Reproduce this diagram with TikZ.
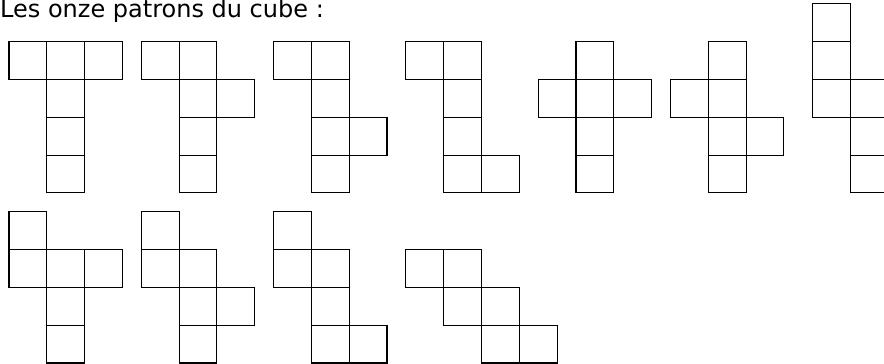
\documentclass[tikz,border=0pt]{standalone}
\usepackage{fontspec}
\setmainfont{DejaVu Sans}
\usetikzlibrary{positioning}

\begin{document}
\begin{tikzpicture}[x=1pt, y=-1pt,
    face/.style={draw=black, line width=1.1pt},
    titre/.style={font=\fontsize{24}{28}\selectfont, inner sep=0pt, anchor=base west}]
    % Parameters
    \def\u{37.8}      % side of one square
    \def\ox{9}        % left edge of the first net
    \def\oy{41.7}     % top edge of the first row of nets

    \useasboundingbox (0,0) rectangle (884,364);
    \clip (0,0) rectangle (884,364);

    % Title
    \node[titre] (titre) at (0,17.2) {Les onze patrons du cube :};

    % One net: #1,#2 = offset (in squares), #3 = list of cells col/row
    \def\patron#1#2#3{%
        \foreach \cx/\cy in {#3} {
            \draw[face] ({#1+\cx},{#2+\cy}) rectangle ++(1,1);
        }}

    \begin{scope}[shift={(\ox,\oy)}, x=\u pt, y=-\u pt]
        % First row
        \patron{0}{0}{0/0,1/0,2/0,1/1,1/2,1/3}
        \patron{3.5}{0}{0/0,1/0,1/1,2/1,1/2,1/3}
        \patron{7}{0}{0/0,1/0,1/1,1/2,2/2,1/3}
        \patron{10.5}{0}{0/0,1/0,1/1,1/2,1/3,2/3}
        \patron{14}{0}{1/0,0/1,1/1,2/1,1/2,1/3}
        \patron{17.5}{0}{1/0,0/1,1/1,1/2,2/2,1/3}
        \patron{21.25}{-1}{0/0,0/1,0/2,1/2,1/3,1/4}

        % Second row
        \patron{0}{4.5}{0/0,0/1,1/1,2/1,1/2,1/3}
        \patron{3.5}{4.5}{0/0,0/1,1/1,1/2,2/2,1/3}
        \patron{7}{4.5}{0/0,0/1,1/1,1/2,1/3,2/3}
        \patron{10.5}{4.5}{0/1,1/1,1/2,2/2,2/3,3/3}
    \end{scope}
\end{tikzpicture}
\end{document}
